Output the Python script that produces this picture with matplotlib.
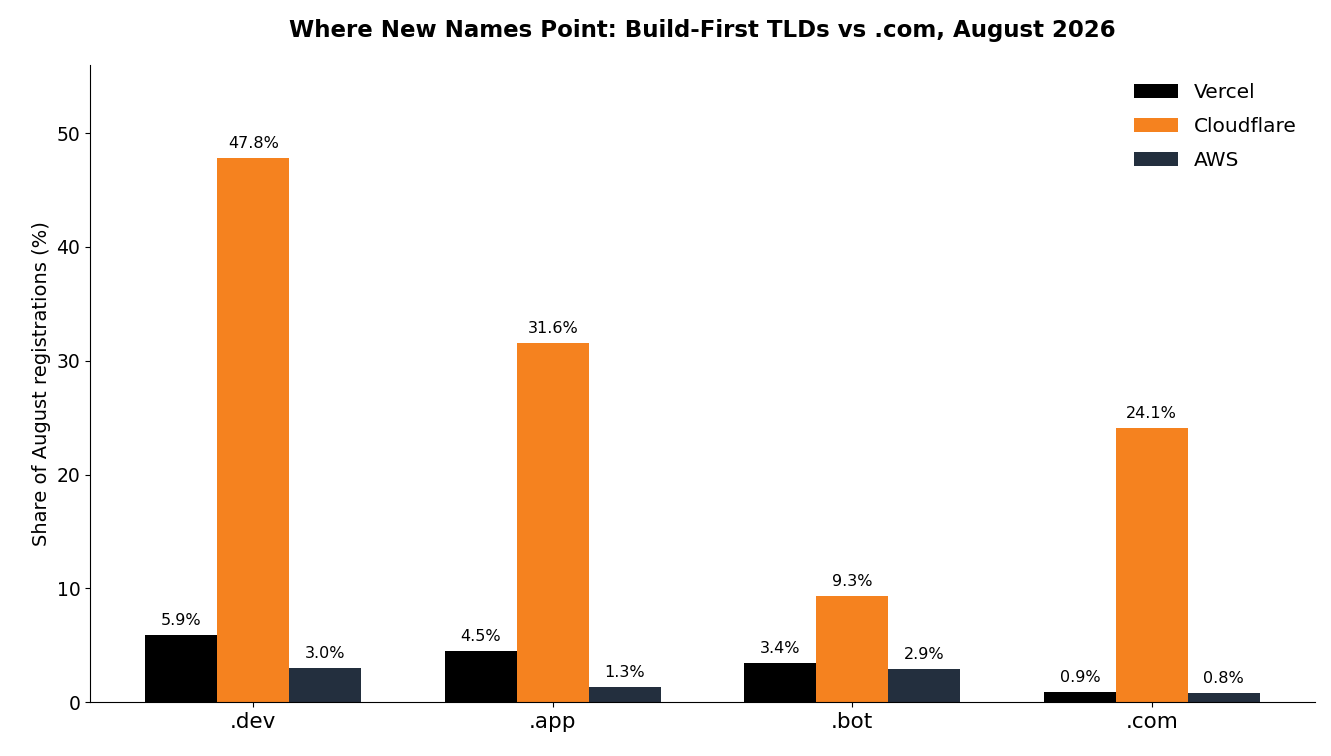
import matplotlib
matplotlib.use("Agg")
import matplotlib.pyplot as plt
import numpy as np

categories = [".dev", ".app", ".bot", ".com"]
series_names = ["Vercel", "Cloudflare", "AWS"]
vercel = [5.9, 4.5, 3.4, 0.9]
cloudflare = [47.8, 31.6, 9.3, 24.1]
aws = [3.0, 1.3, 2.9, 0.8]
colors = ["#000000", "#F5821F", "#232F3E"]

fig = plt.figure(figsize=(13.31, 7.56), dpi=100)
ax = fig.add_axes([90/1331, 1-702/756, (1315-90)/1331, (702-65)/756])
x = np.arange(len(categories))
w = 0.24
for i, (name, vals) in enumerate(zip(series_names, [vercel, cloudflare, aws])):
    bars = ax.bar(x + (i-1)*w, vals, w, color=colors[i], label=name)
    for b, v in zip(bars, vals):
        ax.annotate(f"{v:.1f}%", (b.get_x()+b.get_width()/2, v), xytext=(0, 5),
                    textcoords="offset points", ha="center", va="bottom", fontsize=11.5)
ax.set_xticks(x)
ax.set_xticklabels(categories, fontsize=15.5)
ax.tick_params(axis="y", labelsize=13.5)
ax.set_ylim(0, 56)
ax.set_xlim(-0.545, 3.545)
ax.set_ylabel("Share of August registrations (%)", fontsize=14)
ax.spines["top"].set_visible(False)
ax.spines["right"].set_visible(False)
ax.set_title("Where New Names Point: Build-First TLDs vs .com, August 2026",
             fontsize=16.5, fontweight="bold", pad=20)
ax.legend(frameon=False, fontsize=14.5, loc="upper right", labelspacing=0.75,
          handlelength=2.2)
fig.savefig("out.png", dpi=100)
